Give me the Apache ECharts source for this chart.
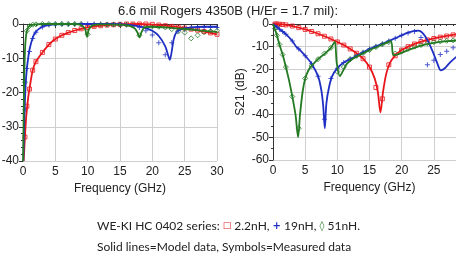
<!DOCTYPE html>
<html>
<head>
<meta charset="utf-8">
<script src="https://cdn.jsdelivr.net/npm/echarts@6/dist/echarts.min.js"></script>
<style>
  html, body { margin: 0; padding: 0; background: #fff; }
  #main { width: 456px; height: 257px; }
</style>
</head>
<body>
<div id="main"></div>
<script>
// ---- left panel (return loss) model curves
var leftRedF = [0.1, 0.3, 0.5, 0.8, 1, 1.5, 2, 3, 4, 5, 6, 7, 8, 9, 10, 12, 14, 16, 18, 20, 22, 24, 26, 28, 30];
var leftRedV = [-40, -33, -27, -21.5, -19, -13.5, -11, -8.3, -6, -4.4, -3.3, -2.5, -1.9, -1.4, -1.0, -0.5, -0.2, -0.05, 0, -0.2, -0.5, -0.9, -1.5, -2.2, -3.0];
var leftBlueF = [0.05, 0.2, 0.4, 0.6, 0.8, 1, 1.5, 2, 3, 4, 5, 8, 14, 16, 18, 19, 20, 21, 22, 22.5, 22.7, 23, 23.3, 23.7, 24.5, 26, 28, 30];
var leftBlueV = [-40, -28, -18, -13, -10, -7.5, -4, -2.2, -0.8, -0.3, -0.1, 0, 0, -0.2, -0.7, -1.2, -2, -3.5, -6.5, -9.5, -10.5, -8, -4.5, -2.5, -1.5, -1, -0.8, -0.8];
var leftGreenF = [0.02, 0.15, 0.3, 0.5, 0.8, 1.2, 2, 3, 8, 9, 9.6, 9.9, 10.2, 10.8, 12, 16, 17.2, 17.7, 18, 18.3, 18.8, 20, 22, 24, 26, 28, 30];
var leftGreenV = [-40, -20, -8, -3, -1, -0.4, -0.1, 0, 0, -0.3, -1.5, -3.7, -1.5, -0.3, -0.1, -0.3, -1.2, -2.5, -3.9, -2.5, -1, -0.8, -1, -1.3, -1.6, -2, -2.3];

// ---- right panel (S21) model curves
var rightRedF = [0, 1, 2, 3, 4, 5, 6, 7, 8, 9, 10, 11, 12, 13, 14, 15, 15.8, 16.3, 16.7, 17.1, 17.6, 18.2, 19, 20, 22, 24, 26, 28, 30];
var rightRedV = [0, -0.1, -0.4, -0.9, -1.6, -2.4, -3.3, -4.3, -5.4, -6.6, -7.9, -9.3, -11, -12.9, -15.3, -19, -24, -30, -39, -30, -22, -17, -14, -11.5, -8.8, -7, -5.8, -4.8, -4];
var rightBlueF = [0, 1, 2, 3, 3.6, 4, 5, 6, 7, 7.5, 7.8, 8.05, 8.3, 8.7, 9.2, 10, 11, 12, 13, 14, 15, 16, 17, 18, 19, 20, 21, 22, 22.6, 23.2, 24, 24.8, 25.5, 26.1, 26.7, 27.5, 28.5, 30];
var rightBlueV = [0, -2.2, -4.5, -7.5, -10, -11, -14, -17.5, -23, -29, -36, -46, -35, -28, -23, -19.5, -17, -15.5, -14, -12.5, -11, -9.8, -8.7, -7.5, -6.3, -5, -3.8, -3, -2.9, -3.8, -7, -12, -17, -20.5, -19.5, -17, -14.5, -11.5];
var rightGreenF = [0, 0.5, 1, 1.5, 2, 2.5, 3, 3.5, 3.9, 4.2, 4.6, 5, 5.5, 6, 7, 8, 9, 9.6, 9.9, 10.4, 11, 11.5, 12.3, 13.4, 15, 16.5, 18.3, 18.7, 19.5, 21, 23, 25, 27, 30];
var rightGreenV = [0, -4, -9, -13.5, -19, -25, -32, -40, -50, -40, -30, -24, -20.5, -18.5, -15.5, -13.2, -10.5, -7.8, -17, -23, -20, -17.5, -15.5, -13.8, -11.5, -9.7, -7.6, -13.7, -13.3, -11.5, -9.5, -8.3, -7.6, -7];

// ---- measured points (symbols), common frequency list
var measF = [0.3, 0.6, 1, 1.5, 2, 3, 4, 5, 6, 7, 8, 9, 10, 11, 12, 13, 14, 15, 16, 17, 18, 19, 20, 21, 22, 23, 24, 25, 26, 27, 28, 29, 30];
var leftRedM = [-33, -24, -19, -13.5, -11, -8.3, -6, -4.4, -3.3, -2.5, -1.9, -1.4, -1.0, -0.7, -0.5, -0.3, -0.2, -0.1, 0, 0, 0, 0, -0.1, -0.3, -0.5, -0.7, -0.9, -1.2, -1.5, -1.8, -2.2, -2.6, -3.0];
var leftBlueM = [-25, -13, -8, -4.2, -2.4, -0.9, -0.3, -0.1, 0, 0, 0, 0, 0, 0, 0, -0.1, -0.1, -0.1, -0.2, -0.4, -1, -2, -3.2, -5.5, -9, -5.5, -2, -1.5, -1.2, -1, -1, -1, -1];
var leftGreenM = [-17, -2, -0.6, -0.2, -0.1, 0, 0, 0, 0, 0, 0, 0, -3, -0.3, -0.2, -0.2, -0.2, -0.2, -0.2, -0.3, -3.3, -0.8, -0.7, -0.8, -1, -1.5, -2.2, -2.5, -4.2, -3.3, -2.4, -2.1, -2];
var rightRedM = [0, 0, -0.1, -0.2, -0.4, -0.9, -1.6, -2.4, -3.3, -4.3, -5.4, -6.6, -7.9, -9.3, -11, -12.9, -15.3, -19, -28, -33, -18, -14, -11.5, -10, -8.8, -7.8, -7, -6.4, -5.8, -5.3, -4.8, -4.4, -4];
var rightBlueM = [-0.5, -1.3, -2.3, -3.3, -4.5, -7.5, -11, -14, -17.5, -23, -42, -24, -19.5, -17, -15.5, -14, -12.5, -11, -9.8, -8.7, -7.5, -6.3, -5, -4, -3.3, -6, -18, -16, -13.5, -12, -10.5, -9.5, -9];
var rightGreenM = [-2, -5, -9, -13.5, -19, -32, -46, -24, -18.5, -15.5, -13, -10.5, -21, -19, -15.5, -14, -12.8, -11.5, -10.2, -9, -8, -13, -12, -11, -10, -9.3, -8.5, -8, -7.7, -7.4, -7.2, -7, -7];

var RED = '#e8161b';
var BLUE = '#1f2fc4';
var GREEN = '#237a23';
var PLUS = 'path://M4,0H6V4H10V6H6V10H4V6H0V4H4Z';

function pairs(f, v) {
    var out = [];
    for (var i = 0; i < f.length; i++) {
        out.push([f[i], v[i]]);
    }
    return out;
}

function lineSeries(idx, f, v, color) {
    return {
        type: 'line', xAxisIndex: idx, yAxisIndex: idx,
        data: pairs(f, v), showSymbol: false, smooth: 0.3,
        lineStyle: {color: color, width: 1.8}, z: 3
    };
}

function markSeries(idx, v, color, symbol, size) {
    return {
        type: 'scatter', xAxisIndex: idx, yAxisIndex: idx,
        data: pairs(measF, v), symbol: symbol, symbolSize: size,
        itemStyle: symbol === PLUS ? {color: color} : {color: 'rgba(0,0,0,0)', borderColor: color, borderWidth: 1},
        z: 2
    };
}

var axisFont = {fontFamily: 'Liberation Sans, Arial', fontSize: 12, color: '#222'};

function xAxis(idx) {
    return {
        type: 'value', gridIndex: idx, min: 0, max: 30, interval: 5,
        name: 'Frequency (GHz)', nameLocation: 'middle', nameGap: 22,
        nameTextStyle: axisFont,
        axisLine: {lineStyle: {color: '#333'}},
        axisTick: {length: 4, lineStyle: {color: '#333'}},
        minorTick: {show: true, splitNumber: 5, length: 2, lineStyle: {color: '#333'}},
        axisLabel: Object.assign({margin: 5}, axisFont),
        splitLine: {lineStyle: {color: '#cfcfcf'}}
    };
}

function yAxis(idx, min, name) {
    return {
        type: 'value', gridIndex: idx, min: min, max: 0, interval: 10,
        name: name, nameLocation: 'middle', nameGap: 26,
        nameTextStyle: axisFont,
        axisLine: {show: true, lineStyle: {color: '#333'}},
        axisTick: {show: true, length: 4, lineStyle: {color: '#333'}},
        minorTick: {show: true, splitNumber: idx === 0 ? 5 : 2, length: 2, lineStyle: {color: '#333'}},
        axisLabel: Object.assign({margin: 4}, axisFont),
        splitLine: {lineStyle: {color: '#cfcfcf'}}
    };
}

var option = {
    animation: false,
    backgroundColor: '#fff',
    title: {
        text: '6.6 mil Rogers 4350B (H/Er = 1.7 mil):',
        left: 'center', top: 0,
        textStyle: {fontFamily: 'Liberation Sans, Arial', fontSize: 13, fontWeight: 'normal', color: '#222'}
    },
    grid: [
        {left: 23, top: 24, width: 194, height: 137, outerBoundsMode: 'none'},
        {left: 273, top: 24, width: 193, height: 136, outerBoundsMode: 'none'}
    ],
    xAxis: [xAxis(0), xAxis(1)],
    yAxis: [yAxis(0, -40, ''), yAxis(1, -60, 'S21 (dB)')],
    series: [
        lineSeries(0, leftRedF, leftRedV, RED),
        lineSeries(0, leftBlueF, leftBlueV, BLUE),
        lineSeries(0, leftGreenF, leftGreenV, GREEN),
        lineSeries(1, rightRedF, rightRedV, RED),
        lineSeries(1, rightBlueF, rightBlueV, BLUE),
        lineSeries(1, rightGreenF, rightGreenV, GREEN),
        markSeries(0, leftRedM, RED, 'rect', 4),
        markSeries(0, leftBlueM, BLUE, PLUS, 5),
        markSeries(0, leftGreenM, GREEN, 'diamond', 5),
        markSeries(1, rightRedM, RED, 'rect', 4),
        markSeries(1, rightBlueM, BLUE, PLUS, 5),
        markSeries(1, rightGreenM, GREEN, 'diamond', 5)
    ],
    graphic: [
        {
            type: 'text', left: 97, top: 220,
            style: {
                text: 'WE-KI HC 0402 series: {r|□} 2.2nH, {b|+} 19nH, {g|◊} 51nH.',
                font: '12px Lato', fill: '#222',
                rich: {
                    r: {fill: RED, fontSize: 9, fontFamily: 'DejaVu Sans'},
                    b: {fill: BLUE, fontSize: 10, fontWeight: 'bold', fontFamily: 'DejaVu Sans'},
                    g: {fill: GREEN, fontSize: 10, fontWeight: 'bold', fontFamily: 'DejaVu Sans'}
                }
            }
        },
        {
            type: 'text', left: 97, top: 241,
            style: {text: 'Solid lines=Model data, Symbols=Measured data', font: '12px Lato', fill: '#222'}
        }
    ]
};

var myChart = echarts.init(document.getElementById('main'));
myChart.setOption(option);
</script>
</body>
</html>
